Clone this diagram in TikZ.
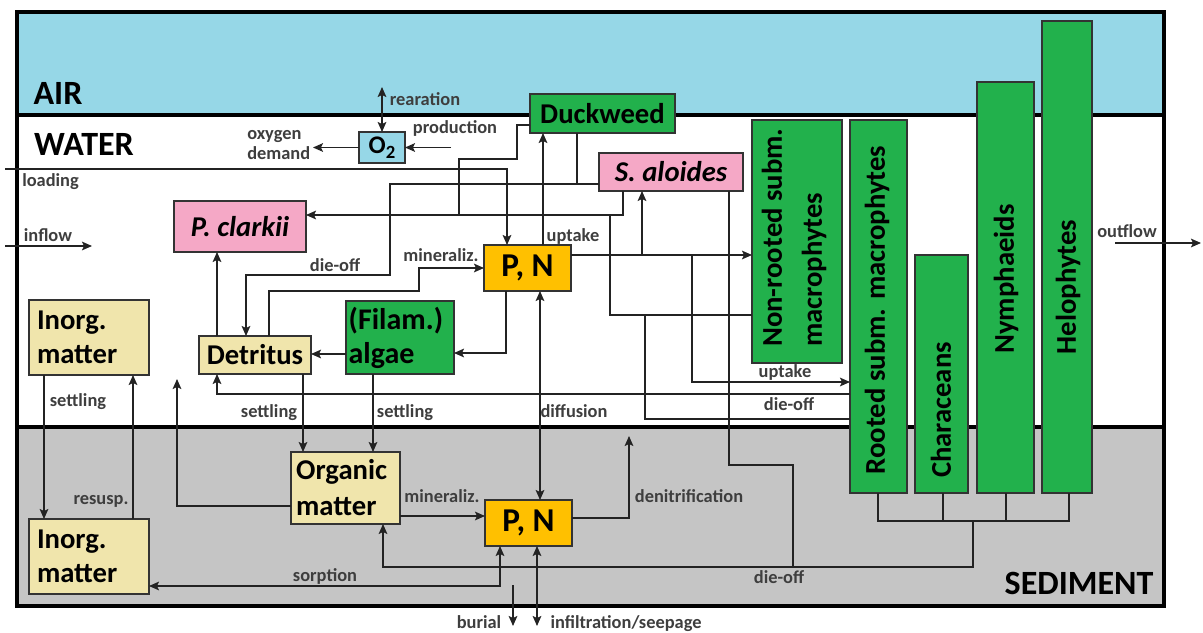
\documentclass[tikz,border=0pt]{standalone}
\usepackage{fontspec}
\setmainfont{Carlito}
\usetikzlibrary{arrows.meta}
\definecolor{airblue}{RGB}{150,215,231}
\definecolor{sedgray}{RGB}{197,197,197}
\definecolor{plantgreen}{RGB}{34,177,76}
\definecolor{pinkbox}{RGB}{245,168,198}
\definecolor{tanbox}{RGB}{240,229,172}
\definecolor{nutrient}{RGB}{255,192,0}
\definecolor{labgray}{RGB}{62,62,62}
\definecolor{linegray}{RGB}{35,35,35}
\pgfdeclarelayer{background}
\pgfsetlayers{background,main}
\tikzset{
  box/.style={draw=black!80, line width=0.9pt, inner sep=0pt, outer sep=0pt,
    font=\fontsize{21.5}{25.5}\selectfont\bfseries, align=center},
  lab/.style={font=\fontsize{13.8}{16}\selectfont\bfseries, text=labgray, inner sep=0pt,
    text height=8.5pt, text depth=0pt},
  zone/.style={font=\fontsize{25.5}{30}\selectfont\bfseries, inner sep=0pt},
  vlab/.style={rotate=90, font=\fontsize{21.5}{30}\selectfont\bfseries, inner sep=0pt},
  conn/.style={draw=linegray, line width=1pt},
  arr/.style={conn, -{Stealth[length=7.5pt,width=6.5pt,inset=1.5pt]}},
  darr/.style={conn, {Stealth[length=7.5pt,width=6.5pt,inset=1.5pt]}-{Stealth[length=7.5pt,width=6.5pt,inset=1.5pt]}},
}
\begin{document}
\begin{tikzpicture}[x=0.75pt,y=-0.75pt]
\useasboundingbox (0,0) rectangle (1203,632);
\begin{pgfonlayer}{background}
\fill[white] (0,0) rectangle (1203,632);
\fill[airblue] (17,12) rectangle (1164,115);
\fill[sedgray] (17,427) rectangle (1164,606);
\draw[line width=2.6pt] (17,115) -- (1164,115);
\draw[line width=2.6pt] (17,427) -- (1164,427);
\draw[line width=2.8pt] (17,12) rectangle (1164,606);
\end{pgfonlayer}

% zone labels
\node[zone] (air) at (58,93) {AIR};
\node[zone] (water) at (84,144) {WATER};
\node[zone] (sediment) at (1079,583) {SEDIMENT};

% boxes
\node[box, fill=airblue, minimum width=46*0.75pt, minimum height=31*0.75pt,
  font=\fontsize{19}{22}\selectfont\bfseries] (o2) at (382,147.5)
  {O\raisebox{-0.22em}{\fontsize{14}{14}\selectfont 2}};
\node[box, fill=plantgreen, minimum width=145*0.75pt, minimum height=39*0.75pt] (dw) at (602.5,113.5) {Duckweed};
\node[box, fill=pinkbox, minimum width=144*0.75pt, minimum height=38*0.75pt] (sa) at (671,172) {\itshape S. aloides};
\node[box, fill=pinkbox, minimum width=132*0.75pt, minimum height=51*0.75pt] (pc) at (240,226.5) {\itshape P. clarkii};
\node[box, fill=tanbox, minimum width=120*0.75pt, minimum height=75*0.75pt, text width=78pt, align=left] (iw) at (89,337.5) {Inorg.\\matter};
\node[box, fill=tanbox, minimum width=112*0.75pt, minimum height=38*0.75pt] (det) at (255,355) {Detritus};
\node[box, fill=plantgreen, minimum width=108*0.75pt, minimum height=73*0.75pt, text width=77pt, align=left,
  font=\fontsize{22.5}{25.5}\selectfont\bfseries] (alg) at (400,337.5) {(Filam.)\\algae};
\node[box, fill=nutrient, minimum width=87*0.75pt, minimum height=46*0.75pt,
  font=\fontsize{25}{30}\selectfont\bfseries] (pnw) at (527.5,268) {P, N};
\node[box, fill=plantgreen, minimum width=90*0.75pt, minimum height=243*0.75pt] (nr) at (797,241.5) {};
\node[box, fill=plantgreen, minimum width=57*0.75pt, minimum height=373*0.75pt] (rs) at (878.5,306.5) {};
\node[box, fill=plantgreen, minimum width=53*0.75pt, minimum height=238*0.75pt] (cha) at (941.5,374) {};
\node[box, fill=plantgreen, minimum width=57*0.75pt, minimum height=411*0.75pt] (nym) at (1005.5,287.5) {};
\node[box, fill=plantgreen, minimum width=50*0.75pt, minimum height=472*0.75pt] (hel) at (1067,257) {};
\node[box, fill=tanbox, minimum width=109*0.75pt, minimum height=72*0.75pt, text width=74pt, align=left,
  font=\fontsize{21.5}{27}\selectfont\bfseries] (org) at (345.5,488) {Organic\\matter};
\node[box, fill=tanbox, minimum width=120*0.75pt, minimum height=75*0.75pt, text width=78pt, align=left] (is) at (89,556.5) {Inorg.\\matter};
\node[box, fill=nutrient, minimum width=87*0.75pt, minimum height=46*0.75pt,
  font=\fontsize{25}{30}\selectfont\bfseries] (pns) at (528.5,523) {P, N};

% vertical texts
\node[vlab, align=left, anchor=west] (nrT) at (794,347) {Non-rooted subm.\\macrophytes};
\node[vlab] (rsT) at (877,310) {Rooted subm. macrophytes};
\node[vlab] (chaT) at (941,410) {Characeans};
\node[vlab] (nymT) at (1006,279) {Nymphaeids};
\node[vlab] (helT) at (1068,287) {Helophytes};

% free ends
\coordinate (loadSrc) at (5,169);
\coordinate (inSrc) at (5,246);
\coordinate (inDst) at (92,246);
\coordinate (rearTop) at (382,87);
\coordinate (oxDem) at (313,147.5);
\coordinate (prodSrc) at (451,147.5);
\coordinate (resOut) at (177,379);
\coordinate (denOut) at (629,436);
\coordinate (burSrc) at (513,585);
\coordinate (burDst) at (513,626);
\coordinate (infDst) at (537,626);
\coordinate (outSrc) at (1115,243);
\coordinate (outDst) at (1201,243);

% connectors
\draw[arr] (loadSrc) -| (pnw.north -| 507,0);
\draw[arr] (inSrc) -- (inDst);
\draw[darr] (rearTop) -- (o2.north);
\draw[arr] (o2.west) -- (oxDem);
\draw[arr] (prodSrc) -- (o2.east);
% grazing by P. clarkii
\draw[arr] (sa.south -| 623,0) |- (pc.east |- 0,215);
\draw[conn] (dw.west |- 0,125) -| (517,159) -| (459,215);
\draw[conn] (nr.west |- 0,315) -| (610,215);
\draw[conn] (rs.west |- 0,419) -| (645,315);
% die-off to detritus
\draw[conn] (dw.south -| 577,0) -- (577,184);
\draw[arr] (sa.west |- 0,184) -| (390,275) -| (det.north -| 246,0);
\draw[arr] (rs.west |- 0,394) -| (det.south -| 217,0);
% mineralization / uptake in water
\draw[arr] (det.north -| 269,0) |- (419,291) |- (pnw.west);
\draw[arr] (det.north -| 217,0) -- (pc.south -| 217,0);
\draw[arr] (alg.west |- 0,354) -- (det.east |- 0,354);
\draw[arr] (pnw.south -| 506,0) |- (alg.east |- 0,353);
\draw[arr] (pnw.north -| 543,0) -- (dw.south -| 543,0);
\draw[arr] (pnw.east |- 0,255) -- (nr.west |- 0,255);
\draw[arr] (642,255) -- (sa.south -| 642,0);
\draw[arr] (692,255) |- (rs.west |- 0,382);
% die-off to sediment
\draw[conn] (sa.south -| 729,0) |- (793,465) -- (793,567);
\draw[conn] (rs.south -| 878,0) -- (878,521) -- (1069,521) -- (hel.south -| 1069,0);
\draw[conn] (cha.south -| 943,0) -- (943,521);
\draw[conn] (nym.south -| 1006,0) -- (1006,521);
\draw[arr] (973,521) |- (383,567) -- (org.south -| 383,0);
% settling / resuspension
\draw[arr] (det.south -| 303,0) -- (org.north -| 303,0);
\draw[arr] (alg.south -| 373,0) -- (org.north -| 373,0);
\draw[arr] (iw.south -| 44,0) -- (is.north -| 44,0);
\draw[arr] (is.north -| 133,0) -- (iw.south -| 133,0);
\draw[arr] (org.west |- 0,506) -| (resOut);
% sediment processes
\draw[arr] (org.east |- 0,516) -- (pns.west |- 0,516);
\draw[arr] (pns.east |- 0,518) -| (denOut);
\draw[darr] (pnw.south -| 540,0) -- (pns.north -| 540,0);
\draw[darr] (pns.south -| 500,0) |- (is.east |- 0,586);
\draw[arr] (burSrc) -- (burDst);
\draw[darr] (pns.south -| 537,0) -- (infDst);
\draw[arr] (outSrc) -- (outDst);

% labels
\node[lab] (lRear) at (425,100) {rearation};
\node[lab] (lProd) at (455,128) {production};
\node[lab, align=left, anchor=west, text height=, text depth=, font=\fontsize{13.8}{15.5}\selectfont\bfseries] (lOxy) at (247,145) {oxygen\\demand};
\node[lab, anchor=west] (lLoad) at (22,181) {loading};
\node[lab] (lIn) at (48,236) {inflow};
\node[lab] (lDie1) at (335,266) {die-off};
\node[lab] (lMin1) at (441,256) {mineraliz.};
\node[lab] (lUp1) at (573,236) {uptake};
\node[lab] (lOut) at (1127,232) {outflow};
\node[lab] (lUp2) at (785,372) {uptake};
\node[lab] (lDie2) at (789,405) {die-off};
\node[lab] (lSet1) at (78,401) {settling};
\node[lab] (lSet2) at (269,412) {settling};
\node[lab] (lSet3) at (405,412) {settling};
\node[lab] (lDiff) at (574,412) {diffusion};
\node[lab] (lRes) at (101,499) {resusp.};
\node[lab] (lSorp) at (325,576) {sorption};
\node[lab] (lMin2) at (442,497) {mineraliz.};
\node[lab] (lDen) at (689,497) {denitrification};
\node[lab] (lDie3) at (779,578) {die-off};
\node[lab] (lBur) at (479,623) {burial};
\node[lab] (lInf) at (626,623) {infiltration/seepage};
\end{tikzpicture}
\end{document}
